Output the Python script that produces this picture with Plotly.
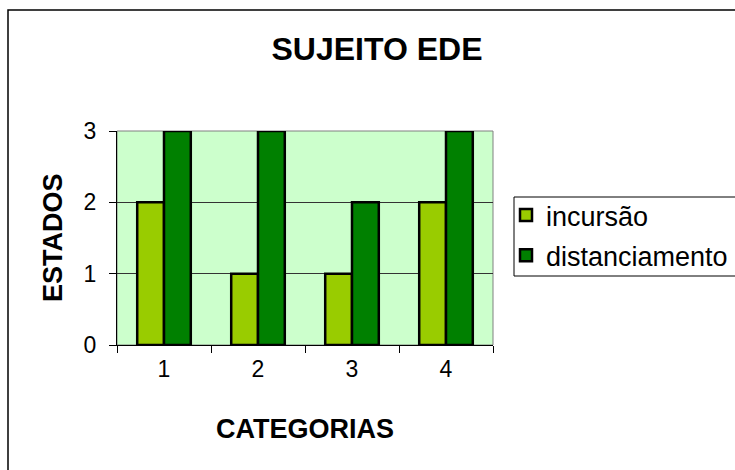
import plotly.graph_objects as go

categories = ["1", "2", "3", "4"]
incursao = [2, 1, 1, 2]
distanciamento = [3, 3, 2, 3]
series_names = ["incursão", "distanciamento"]
y_ticks = [0, 1, 2, 3]

W, H = 735, 470
L, R, T, B = 117, 493, 131, 345
pw, ph = R - L, B - T

def px(x):
    return (x - L) / pw

def py(y):
    return (B - y) / ph

fig = go.Figure()
fig.add_trace(go.Bar(x=categories, y=incursao, name=series_names[0], legendgroup="a",
                     marker=dict(color="#99CC00", line=dict(color="#000000", width=2.5))))
fig.add_trace(go.Bar(x=categories, y=distanciamento, name=series_names[1], legendgroup="b",
                     marker=dict(color="#008000", line=dict(color="#000000", width=2.5))))

fig.update_layout(
    width=W, height=H,
    margin=dict(l=L, r=W - R, t=T, b=H - B, autoexpand=False),
    paper_bgcolor="white",
    plot_bgcolor="#CCFFCC",
    barmode="group",
    bargap=0.43,
    bargroupgap=0,
    font=dict(family="Liberation Sans, Arial, sans-serif", color="black"),
    title=dict(text="<b>SUJEITO EDE</b>", x=377 / W, xanchor="center",
               y=1 - 49 / H, yanchor="middle", font=dict(size=32)),
    legend=dict(x=px(506), y=py(191), xanchor="left", yanchor="top",
                borderwidth=0, bgcolor="rgba(0,0,0,0)",
                font=dict(size=27), tracegroupgap=2, itemwidth=30),
    showlegend=True,
)

fig.update_xaxes(type="category", tickson="boundaries", ticks="outside", ticklen=7,
                 tickcolor="black", showline=True, linecolor="black", linewidth=1,
                 showgrid=False, tickfont=dict(size=23), ticklabelstandoff=3)
fig.update_yaxes(range=[0, 3], tickvals=y_ticks, ticks="outside", ticklen=7,
                 tickcolor="black", showline=True, linecolor="black", linewidth=1,
                 showgrid=True, gridcolor="#333333", gridwidth=1, zeroline=False,
                 tickfont=dict(size=23), ticklabelstandoff=8)

# plot-area border (grey), legend box and chart-area border (black)
fig.add_shape(type="rect", xref="paper", yref="paper", x0=0, x1=1, y0=0, y1=1,
              line=dict(color="#808080", width=1), layer="below")
fig.add_shape(type="rect", xref="paper", yref="paper",
              x0=px(514), x1=px(760), y0=py(276), y1=py(197),
              line=dict(color="black", width=1), fillcolor="white", layer="below")
fig.add_shape(type="rect", xref="paper", yref="paper",
              x0=px(8), x1=px(745), y0=py(480), y1=py(10),
              line=dict(color="black", width=1.5), layer="above")

# axis titles
fig.add_annotation(text="<b>CATEGORIAS</b>", xref="paper", yref="paper",
                   x=0.5, y=py(429), xanchor="center", yanchor="middle",
                   showarrow=False, font=dict(size=27))
fig.add_annotation(text="<b>ESTADOS</b>", xref="paper", yref="paper",
                   x=px(53), y=0.5, xanchor="center", yanchor="middle",
                   textangle=-90, showarrow=False, font=dict(size=27))

fig.write_html("out.html")
